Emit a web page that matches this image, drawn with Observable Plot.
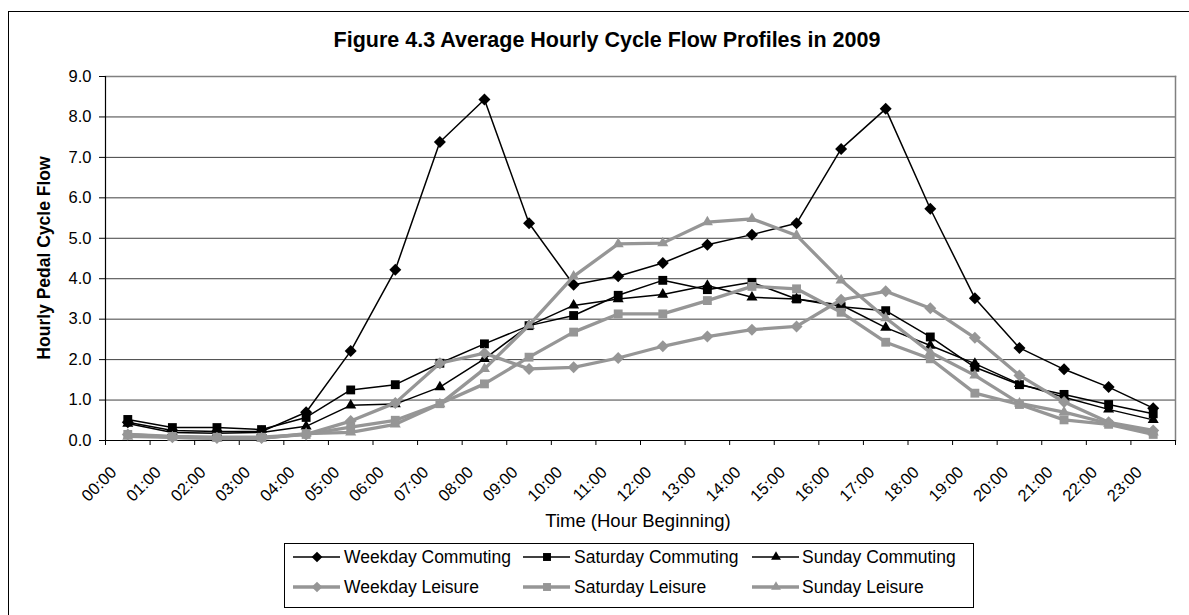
<!DOCTYPE html>
<html>
<head>
<meta charset="utf-8">
<script src="https://cdn.jsdelivr.net/npm/d3@7"></script>
<script src="https://cdn.jsdelivr.net/npm/@observablehq/plot@0.6"></script>
<style>
  html, body { margin: 0; padding: 0; background: #fff; overflow: hidden; }
  #wrap { position: relative; width: 1189px; height: 615px; overflow: hidden; font-family: "Liberation Sans", Arial, sans-serif; }
  #border { position: absolute; left: 8px; top: 11px; width: 1300px; height: 700px; border: 1.5px solid #000; box-sizing: border-box; }
  #chart { position: absolute; left: 0; top: 0; }
  #overlay { position: absolute; left: 0; top: 0; pointer-events: none; }
</style>
</head>
<body>
<div id="wrap">
  <div id="border"></div>
  <div id="chart"></div>
  <svg id="overlay" width="1189" height="615"></svg>
</div>
<script>
// ---------- data ----------
const hours = ["00:00","01:00","02:00","03:00","04:00","05:00","06:00","07:00","08:00","09:00","10:00","11:00",
               "12:00","13:00","14:00","15:00","16:00","17:00","18:00","19:00","20:00","21:00","22:00","23:00"];
const weekdayCommuting  = [0.45,0.25,0.22,0.22,0.70,2.21,4.22,7.38,8.43,5.37,3.85,4.06,4.39,4.84,5.09,5.37,7.21,8.20,5.73,3.52,2.29,1.76,1.32,0.80];
const saturdayCommuting = [0.52,0.32,0.32,0.27,0.57,1.25,1.38,1.91,2.39,2.84,3.09,3.59,3.96,3.73,3.91,3.50,3.31,3.21,2.56,1.81,1.38,1.14,0.89,0.66];
const sundayCommuting   = [0.42,0.20,0.18,0.20,0.35,0.87,0.90,1.32,2.02,2.84,3.34,3.50,3.61,3.83,3.54,3.50,3.35,2.79,2.35,1.90,1.40,1.07,0.77,0.51];
const weekdayLeisure    = [0.15,0.08,0.06,0.06,0.15,0.48,0.93,1.91,2.16,1.77,1.81,2.04,2.33,2.57,2.74,2.82,3.48,3.69,3.27,2.54,1.61,0.95,0.45,0.25];
const saturdayLeisure   = [0.15,0.10,0.08,0.08,0.15,0.33,0.50,0.91,1.40,2.06,2.68,3.13,3.13,3.46,3.81,3.75,3.17,2.43,2.02,1.17,0.89,0.51,0.40,0.15];
const sundayLeisure     = [0.10,0.08,0.05,0.05,0.17,0.20,0.40,0.90,1.77,2.85,4.06,4.86,4.88,5.40,5.48,5.07,3.96,3.03,2.18,1.61,0.92,0.70,0.42,0.20];
const yTicks = [0,1,2,3,4,5,6,7,8,9];
const seriesNames = ["Weekday Commuting","Saturday Commuting","Sunday Commuting","Weekday Leisure","Saturday Leisure","Sunday Leisure"];
const seriesValues = [weekdayCommuting, saturdayCommuting, sundayCommuting, weekdayLeisure, saturdayLeisure, sundayLeisure];

// ---------- styles ----------
const BLACK = "#000000", GRAY = "#969696";
const styles = [
  {color: BLACK, width: 1.5, symbol: "diamond2", r: 5.4},
  {color: BLACK, width: 1.5, symbol: "square",   r: 5.0},
  {color: BLACK, width: 1.5, symbol: "triangle", r: 4.1},
  {color: GRAY,  width: 3.3, symbol: "diamond2", r: 5.4},
  {color: GRAY,  width: 3.3, symbol: "square",   r: 5.0},
  {color: GRAY,  width: 3.3, symbol: "triangle", r: 4.1}
];
const X = (d, i) => i + 0.5;

const marks = [
  Plot.ruleY(yTicks, {stroke: "#404040", strokeWidth: 1}),
  Plot.frame({anchor: "top", stroke: "#808080", strokeWidth: 1.5}),
  Plot.frame({anchor: "right", stroke: "#808080", strokeWidth: 1.5}),
  Plot.axisY(yTicks, {tickFormat: d => d.toFixed(1), tickSize: 6, tickPadding: 8, fontSize: 16.5, label: null, stroke: "#000"}),
  Plot.axisX(d3.range(hours.length + 1), {tickSize: 5, tickFormat: () => "", label: null, stroke: "#000"}),
  Plot.frame({anchor: "left", stroke: "#000", strokeWidth: 1.2}),
  Plot.ruleY([0], {stroke: "#000", strokeWidth: 1.2}),
  Plot.text(hours, {x: X, y: () => 0, text: d => d, rotate: -45, textAnchor: "end", lineAnchor: "middle",
                    dx: -14, dy: 29, fontSize: 16.5, fill: "#000"})
];
seriesValues.forEach((vals, k) => {
  const s = styles[k];
  marks.push(Plot.line(vals, {x: X, y: d => d, stroke: s.color, strokeWidth: s.width, strokeLinejoin: "round"}));
  marks.push(Plot.dot(vals, {x: X, y: d => d, symbol: s.symbol, r: s.r, fill: s.color, stroke: "none"}));
});

const chart = Plot.plot({
  width: 1189,
  height: 615,
  marginLeft: 105,
  marginRight: 14,
  marginTop: 76,
  marginBottom: 175,
  style: {fontFamily: "'Liberation Sans', Arial, sans-serif", fontSize: "16.5px", color: "#000", background: "transparent", overflow: "visible"},
  x: {type: "linear", domain: [0, hours.length], axis: null},
  y: {domain: [0, 9], axis: null},
  marks
});
document.getElementById("chart").appendChild(chart);

// ---------- titles & legend ----------
const ov = d3.select("#overlay").style("font-family", "'Liberation Sans', Arial, sans-serif");
ov.append("text").attr("x", 607).attr("y", 47).attr("text-anchor", "middle")
  .attr("font-weight", "bold").attr("font-size", 21.5).text("Figure 4.3 Average Hourly Cycle Flow Profiles in 2009");
ov.append("text").attr("transform", "translate(50,258) rotate(-90)").attr("text-anchor", "middle")
  .attr("font-weight", "bold").attr("font-size", 17.5).text("Hourly Pedal Cycle Flow");
ov.append("text").attr("x", 638).attr("y", 527).attr("text-anchor", "middle")
  .attr("font-size", 18.5).text("Time (Hour Beginning)");

ov.append("rect").attr("x", 284.5).attr("y", 543.5).attr("width", 689).attr("height", 64)
  .attr("fill", "#fff").attr("stroke", "#000").attr("stroke-width", 1);
const colSym = [293, 523, 752], colText = [344, 574, 802], rowY = [557, 587];
const symMap = {diamond2: d3.symbolDiamond2, square: d3.symbolSquare, triangle: d3.symbolTriangle};
seriesNames.forEach((name, k) => {
  const s = styles[k];
  const cx = colSym[k % 3], cy = rowY[Math.floor(k / 3)];
  const g = ov.append("g");
  g.append("line").attr("x1", cx).attr("x2", cx + 47).attr("y1", cy).attr("y2", cy)
    .attr("stroke", s.color).attr("stroke-width", s.width);
  g.append("path").attr("transform", `translate(${cx + 24},${cy})`)
    .attr("d", d3.symbol(symMap[s.symbol], Math.PI * s.r * s.r * 0.8)()).attr("fill", s.color);
  g.append("text").attr("x", colText[k % 3]).attr("y", cy).attr("dy", "0.35em")
    .attr("font-size", 17.5).text(name);
});
</script>
</body>
</html>
